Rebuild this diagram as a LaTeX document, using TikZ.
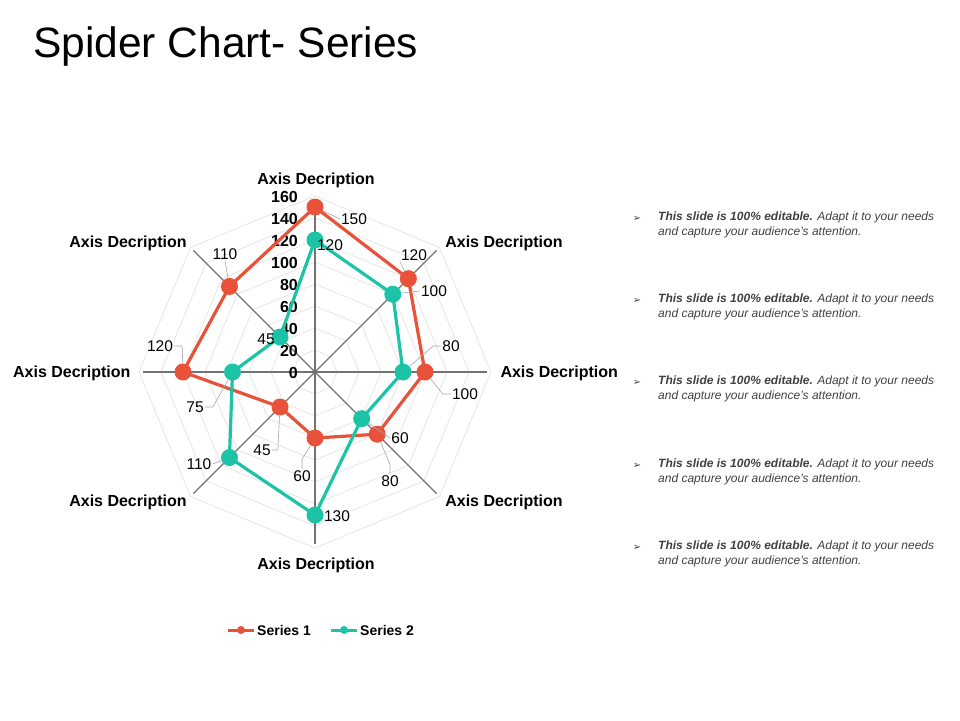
\documentclass[tikz,border=0pt]{standalone}
\usepackage{fontspec}
\usetikzlibrary{calc}
\setmainfont{Liberation Sans}
\newfontfamily\djfont{DejaVu Sans}
\definecolor{sone}{HTML}{E8523A}
\definecolor{stwo}{HTML}{1DC3A6}
\definecolor{txt}{HTML}{404040}
\begin{document}
\begin{tikzpicture}[x=1pt,y=-1pt,
  axl/.style={font=\bfseries\fontsize{16}{18}\selectfont},
  vl/.style={font=\fontsize{15.5}{18}\selectfont,text=black,inner sep=1pt},
  tk/.style={font=\bfseries\fontsize{16}{18}\selectfont,inner sep=0pt},
  ld/.style={draw=gray!70,line width=0.6pt},
  mk/.style={circle,inner sep=0pt,minimum size=17pt},
  bt/.style={font=\itshape\fontsize{12}{15}\selectfont,text=txt,anchor=north west,align=left,inner sep=0pt}]
\useasboundingbox (0,0) rectangle (960,720);
\node[anchor=west,font=\fontsize{42.5}{46}\selectfont,inner sep=0pt] (title) at (33,47) {Spider Chart- Series};
\coordinate (c) at (315,372);
\def\s{1.1}
% grid
\foreach \r in {20,40,...,160}{
  \draw[gray!25,line width=0.6pt] ($(c)+(90:\r*\s)$) -- ($(c)+(45:\r*\s)$) -- ($(c)+(0:\r*\s)$) -- ($(c)+(-45:\r*\s)$) -- ($(c)+(-90:\r*\s)$) -- ($(c)+(-135:\r*\s)$) -- ($(c)+(180:\r*\s)$) -- ($(c)+(135:\r*\s)$) -- cycle;
}
\foreach \a in {90,45,0,-45,-90,-135,180,135}
  \draw[gray!90!black,line width=1.3pt] (c) -- ++(\a:172) coordinate (sp\a);
% ticks
\foreach \v/\y in {0/373,20/351,40/329,60/307,80/285,100/263,120/241,140/219,160/197}
  \node[tk,anchor=east] (t\v) at (298,\y) {\v};
% axis labels
\node[axl] (a1) at (316,180) {Axis Decription};
\node[axl] (a2) at (504,243) {Axis Decription};
\node[axl,anchor=west] (a3) at (497,373) {Axis Decription};
\node[axl] (a4) at (504,502) {Axis Decription};
\node[axl] (a5) at (316,565) {Axis Decription};
\node[axl] (a6) at (128,502) {Axis Decription};
\node[axl,anchor=east] (a7) at (134,373) {Axis Decription};
\node[axl] (a8) at (128,243) {Axis Decription};
% series (y axis points down, so angles are negated)
\foreach \v/\a [count=\i] in {150/-90,120/-45,100/0,80/45,60/90,45/135,120/180,110/-135}
  \coordinate (p\i) at ($(c)+(\a:\v*\s)$);
\foreach \v/\a [count=\i] in {120/-90,100/-45,80/0,60/45,130/90,110/135,75/180,45/-135}
  \coordinate (q\i) at ($(c)+(\a:\v*\s)$);
\draw[sone,line width=3.2pt,line join=round] (p1)--(p2)--(p3)--(p4)--(p5)--(p6)--(p7)--(p8)--cycle;
\draw[stwo,line width=3.2pt,line join=round] (q1)--(q2)--(q3)--(q4)--(q5)--(q6)--(q7)--(q8)--cycle;
\foreach \i in {1,...,8}{
  \node[mk,fill=sone] (P\i) at (p\i) {};
  \node[mk,fill=stwo] (Q\i) at (q\i) {};}
% value labels
\node[vl] (l1) at (354,219) {150};
\node[vl] (l2) at (414,255) {120};
\node[vl] (l3) at (434,291) {100};
\node[vl] (l4) at (451,346) {80};
\node[vl] (l5) at (465,394) {100};
\node[vl] (l6) at (400,438) {60};
\node[vl] (l7) at (390,481) {80};
\node[vl] (l8) at (302,476) {60};
\node[vl] (l9) at (337,516) {130};
\node[vl] (l10) at (262,450) {45};
\node[vl] (l11) at (199,464) {110};
\node[vl] (l12) at (195,407) {75};
\node[vl] (l13) at (160,346) {120};
\node[vl] (l14) at (266,339) {45};
\node[vl] (l15) at (225,254) {110};
\node[vl] (l16) at (330,245) {120};
\draw[ld] (l2.south west) -- (P2);
\draw[ld] (l3.west) -- (Q2);
\draw[ld] (l4.west) -- ++(-8,0) -- (Q3);
\draw[ld] (l5.west) -- ++(-8,0) -- (P3);
\draw[ld] (l6.west) -- (Q4);
\draw[ld] (l7.north) -- ++(0,-10) -- (P4);
\draw[ld] (l8.north) -- ++(0,-10) -- (P5);
\draw[ld] (l10.east) -- ++(6,0) -- (P6);
\draw[ld] (l11.east) -- (Q6);
\draw[ld] (l12.east) -- ++(8,0) -- (Q7);
\draw[ld] (l13.east) -- ++(8,0) -- (P7);
\draw[ld] (l14.east) -- (Q8);
\draw[ld] (l15.south) -- (P8);
\draw[ld] (l1.west) -- (P1);
% legend
\draw[sone,line width=3pt] (228,630) -- (254,630);
\node[circle,fill=sone,inner sep=0pt,minimum size=8pt] (m1) at (241,630) {};
\node[anchor=west,font=\bfseries\fontsize{14}{16}\selectfont,inner sep=0pt] (s1) at (257,630) {Series 1};
\draw[stwo,line width=3pt] (331,630) -- (357,630);
\node[circle,fill=stwo,inner sep=0pt,minimum size=8pt] (m2) at (344,630) {};
\node[anchor=west,font=\bfseries\fontsize{14}{16}\selectfont,inner sep=0pt] (s2) at (360,630) {Series 2};
% bullets
\foreach \y [count=\k] in {212,294,376,459,541}{
  \node[font=\djfont\fontsize{10}{12}\selectfont,text=txt,inner sep=0pt] (b\k) at (637,\y+7) {➢};
  \node[bt] (bt\k) at (658,\y) {{\bfseries This slide is 100\% editable.} Adapt it to your needs\\and capture your audience's attention.};
}
\end{tikzpicture}
\end{document}
